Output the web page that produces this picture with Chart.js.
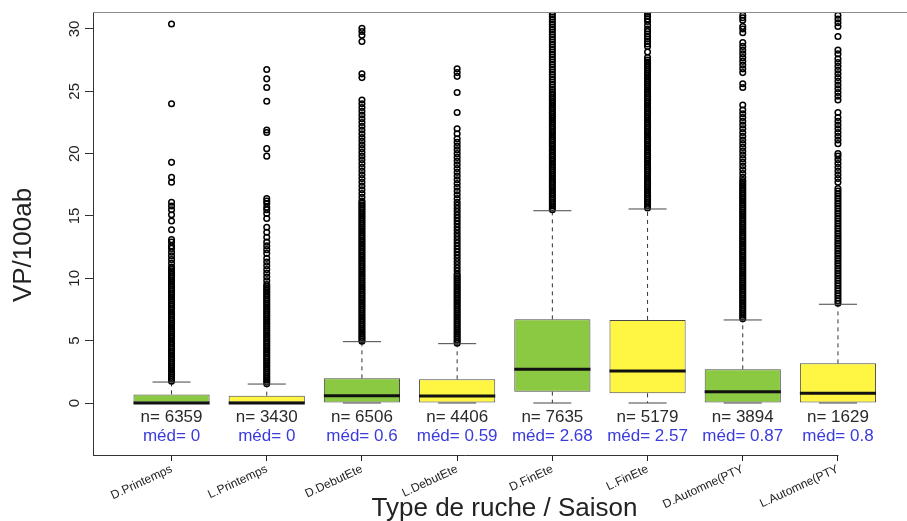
<!DOCTYPE html>
<html>
<head>
<meta charset="utf-8">
<script src="https://cdn.jsdelivr.net/npm/chart.js@4.4.1/dist/chart.umd.min.js"></script>
<style>
  html, body { margin: 0; padding: 0; background: #fff; }
  #wrap { width: 907px; height: 521px; }
</style>
</head>
<body>
<div id="wrap"><canvas id="chart"></canvas></div>
<script>
var categories = ['D.Printemps', 'L.Printemps', 'D.DebutEte', 'L.DebutEte', 'D.FinEte', 'L.FinEte', 'D.Automne(PTY', 'L.Automne(PTY'];
var q1 = [0, 0, 0, 0, 0.91, 0.78, 0, 0];
var medians = [0, 0, 0.59, 0.56, 2.70, 2.57, 0.91, 0.78];
var q3 = [0.69, 0.59, 1.98, 1.90, 6.71, 6.66, 2.70, 3.18];
var whiskLow = [0, 0, 0, 0, 0, 0, 0, 0];
var whiskHigh = [1.68, 1.52, 4.92, 4.76, 15.42, 15.56, 6.66, 7.92];
var counts = [6359, 3430, 6506, 4406, 7635, 5179, 3894, 1629];
var medLabels = ['0', '0', '0.6', '0.59', '2.68', '2.57', '0.87', '0.8'];
var yTicks = [0, 5, 10, 15, 20, 25, 30];

// outliers (the solid black columns are approximated by close points)
var out1 = [1.75, 1.9, 2.05, 2.2, 2.35, 2.5, 2.65, 2.8, 2.95, 3.1, 3.25, 3.4, 3.55, 3.7, 3.85, 4.0, 4.15, 4.3, 4.45, 4.6, 4.75, 4.9, 5.05, 5.2, 5.35, 5.5, 5.65, 5.8, 5.95, 6.1, 6.25, 6.4, 6.55, 6.7, 6.85, 7.0, 7.15, 7.3, 7.45, 7.6, 7.75, 7.9, 8.05, 8.2, 8.35, 8.5, 8.65, 8.8, 8.95, 9.1, 9.25, 9.4, 9.55, 9.7, 9.85, 10.0, 10.15, 10.3, 10.45, 10.6, 10.75, 10.9,
  11.2, 11.5, 11.8, 12.1, 12.4, 12.6, 12.9, 13.1, 13.9, 14.6, 15.1, 15.5, 15.8, 16.1, 17.7, 18.1, 19.3, 24.0, 30.4];
var out2 = [1.55, 1.7, 1.85, 2.0, 2.15, 2.3, 2.45, 2.6, 2.75, 2.9, 3.05, 3.2, 3.35, 3.5, 3.65, 3.8, 3.95, 4.1, 4.25, 4.4, 4.55, 4.7, 4.85, 5.0, 5.15, 5.3, 5.45, 5.6, 5.75, 5.9, 6.05, 6.2, 6.35, 6.5, 6.65, 6.8, 6.95, 7.1, 7.25, 7.4, 7.55, 7.7, 7.85, 8.0, 8.15, 8.3, 8.45, 8.6, 8.75, 8.9, 9.05, 9.2, 9.35, 9.5,
  9.8, 10.1, 10.4, 10.7, 11.0, 11.3, 11.6, 12.0, 12.3, 12.6, 12.9, 13.3, 13.7, 14.1, 14.8, 15.2, 15.5, 15.7, 16.0, 16.2, 16.4, 19.8, 20.4, 21.7, 21.9, 24.2, 25.3, 26.0, 26.75];
var out3 = [4.95, 5.1, 5.25, 5.4, 5.55, 5.7, 5.85, 6.0, 6.15, 6.3, 6.45, 6.6, 6.75, 6.9, 7.05, 7.2, 7.35, 7.5, 7.65, 7.8, 7.95, 8.1, 8.25, 8.4, 8.55, 8.7, 8.85, 9.0, 9.15, 9.3, 9.45, 9.6, 9.75, 9.9, 10.05, 10.2, 10.35, 10.5, 10.65, 10.8, 10.95, 11.1, 11.25, 11.4, 11.55, 11.7, 11.85, 12.0, 12.15, 12.3, 12.45, 12.6, 12.75, 12.9, 13.05, 13.2, 13.35, 13.5, 13.65, 13.8, 13.95, 14.1, 14.25, 14.4, 14.55, 14.7, 14.85, 15.0, 15.15, 15.3, 15.45, 15.6, 15.75, 15.9, 16.05, 16.2,
  16.5, 16.8, 17.1, 17.4, 17.7, 18.0, 18.3, 18.6, 18.9, 19.2, 19.5, 19.8, 20.1, 20.4, 20.7, 21.0, 21.3, 21.6, 21.9, 22.2, 22.5, 22.8, 23.1, 23.4, 23.7, 24.0, 24.3, 26.1, 26.4, 29.0, 29.5, 29.8, 30.05];
var out4 = [4.8, 4.95, 5.1, 5.25, 5.4, 5.55, 5.7, 5.85, 6.0, 6.15, 6.3, 6.45, 6.6, 6.75, 6.9, 7.05, 7.2, 7.35, 7.5, 7.65, 7.8, 7.95, 8.1, 8.25, 8.4, 8.55, 8.7, 8.85, 9.0, 9.15, 9.3, 9.45, 9.6, 9.75, 9.9, 10.05, 10.2, 10.35,
  10.6, 10.85, 11.1, 11.35, 11.6, 11.85, 12.1, 12.35, 12.6, 12.85, 13.1, 13.35, 13.6, 13.85, 14.1, 14.35, 14.6, 14.85, 15.1, 15.35, 15.6, 15.85, 16.1, 16.4, 16.7, 17.0, 17.3, 17.6, 17.9, 18.2, 18.5, 18.8, 19.1, 19.4, 19.7, 20.0, 20.3, 20.6, 20.9, 21.2, 21.6, 22.0, 23.3, 24.9, 26.2, 26.5, 26.8];
var out5 = [15.5, 15.65, 15.8, 15.95, 16.1, 16.25, 16.4, 16.55, 16.7, 16.85, 17.0, 17.15, 17.3, 17.45, 17.6, 17.75, 17.9, 18.05, 18.2, 18.35, 18.5, 18.65, 18.8, 18.95, 19.1, 19.25, 19.4, 19.55, 19.7, 19.85, 20.0, 20.15, 20.3, 20.45, 20.6, 20.75, 20.9, 21.05, 21.2, 21.35, 21.5, 21.65, 21.8, 21.95, 22.1, 22.25, 22.4, 22.55, 22.7, 22.85, 23.0, 23.15, 23.3, 23.45, 23.6, 23.75, 23.9, 24.05, 24.2, 24.35, 24.5, 24.65, 24.8, 24.95,
  25.15, 25.35, 25.55, 25.75, 25.95, 26.15, 26.35, 26.55, 26.75, 26.95, 27.15, 27.35, 27.55, 27.75, 27.95, 28.15, 28.35, 28.55, 28.75, 28.95, 29.15, 29.35, 29.55, 29.75, 29.95, 30.15, 30.35, 30.55, 30.75, 30.95, 31.15, 31.35];
var out6 = [15.65, 15.8, 15.95, 16.1, 16.25, 16.4, 16.55, 16.7, 16.85, 17.0, 17.15, 17.3, 17.45, 17.6, 17.75, 17.9, 18.05, 18.2, 18.35, 18.5, 18.65, 18.8, 18.95, 19.1, 19.25, 19.4, 19.55, 19.7, 19.85, 20.0, 20.15, 20.3, 20.45, 20.6, 20.75, 20.9, 21.05, 21.2, 21.35, 21.5, 21.65, 21.8, 21.95, 22.1, 22.25, 22.4, 22.55, 22.7, 22.85, 23.0, 23.15, 23.3, 23.45, 23.6, 23.75, 23.9, 24.05, 24.2, 24.35, 24.5, 24.65, 24.8, 24.95, 25.1, 25.25, 25.4, 25.55, 25.7, 25.85, 26.0, 26.15, 26.3, 26.45, 26.6, 26.75, 26.9, 27.05, 27.2, 27.35, 27.5, 27.7,
  28.15, 28.6, 28.8, 29.0, 29.2, 29.4, 29.6, 29.8, 30.0, 30.3, 30.6, 30.8, 31.0, 31.2, 31.35];
var out7 = [6.75, 6.9, 7.05, 7.2, 7.35, 7.5, 7.65, 7.8, 7.95, 8.1, 8.25, 8.4, 8.55, 8.7, 8.85, 9.0, 9.15, 9.3, 9.45, 9.6, 9.75, 9.9, 10.05, 10.2, 10.35, 10.5, 10.65, 10.8, 10.95, 11.1, 11.25, 11.4, 11.55, 11.7, 11.85, 12.0, 12.15, 12.3, 12.45, 12.6, 12.75, 12.9, 13.05, 13.2, 13.35, 13.5, 13.65, 13.8, 13.95, 14.1, 14.25, 14.4, 14.55, 14.7, 14.85, 15.0, 15.15, 15.3, 15.45, 15.6, 15.75, 15.9, 16.05, 16.2, 16.35, 16.5, 16.65, 16.8, 16.95, 17.1, 17.25, 17.4, 17.55, 17.7, 17.85,
  18.1, 18.4, 18.7, 19.0, 19.3, 19.6, 19.9, 20.2, 20.5, 20.8, 21.1, 21.4, 21.7, 22.0, 22.3, 22.6, 22.9, 23.2, 23.5, 23.9, 25.3, 25.6, 26.5, 26.8, 27.1, 27.4, 27.7, 28.0, 28.3, 28.6, 28.9, 29.7, 30.0, 30.2, 30.7, 30.9, 31.1];
var out8 = [8.0, 8.2, 8.4, 8.6, 8.8, 9.0, 9.2, 9.4, 9.6, 9.8, 10.0, 10.2, 10.4, 10.6, 10.8, 11.0, 11.2, 11.4, 11.6, 11.8, 12.0, 12.2, 12.4, 12.6, 12.8, 13.0, 13.2, 13.4, 13.6, 13.8, 14.0, 14.2, 14.4, 14.6, 14.8, 15.0, 15.2, 15.4, 15.6, 15.8, 16.0, 16.2, 16.4, 16.6, 16.8, 17.0, 17.2,
  17.7, 18.0, 18.3, 18.6, 18.9, 19.2, 19.5, 19.8, 20.0, 20.8, 21.1, 21.4, 21.7, 22.0, 22.3, 22.6, 22.9, 23.3, 24.3, 24.6, 24.9, 25.2, 25.5, 25.8, 26.1, 26.4, 26.7, 27.0, 27.3, 27.6, 28.0, 28.3, 29.4, 30.2, 30.5, 30.8, 31.1];
var outliers = [out1, out2, out3, out4, out5, out6, out7, out8];

var boxColors = ['#8bc943', '#fff644', '#8bc943', '#fff644', '#8bc943', '#fff644', '#8bc943', '#fff644'];
var FONT = '"Liberation Sans", Arial, Helvetica, sans-serif';

function halfWidth(units) {
  return function (ctx) {
    var s = ctx.chart.scales.x;
    if (!s) return 10;
    return Math.abs(s.getPixelForValue(1 + units) - s.getPixelForValue(1));
  };
}

var boxData = categories.map(function (c, i) { return { x: i + 1, y: [q1[i], q3[i]] }; });
var medData = categories.map(function (c, i) { return { x: i + 1, y: medians[i] }; });
var capData = [];
var whiskData = [];
categories.forEach(function (c, i) {
  capData.push({ x: i + 1, y: whiskHigh[i] });
  capData.push({ x: i + 1, y: whiskLow[i] });
  whiskData.push({ x: i + 1, y: q3[i] }, { x: i + 1, y: whiskHigh[i] }, { x: i + 1, y: null });
  if (q1[i] > whiskLow[i]) {
    whiskData.push({ x: i + 1, y: q1[i] }, { x: i + 1, y: whiskLow[i] }, { x: i + 1, y: null });
  }
});
var outData = [];
outliers.forEach(function (list, i) {
  list.forEach(function (v) { outData.push({ x: i + 1, y: v }); });
});

var textPlugin = {
  id: 'boxText',
  afterDraw: function (chart) {
    var ctx = chart.ctx;
    var xs = chart.scales.x;
    var ys = chart.scales.y;
    var area = chart.chartArea;
    ctx.save();

    // plot frame: grey top line, axis line along the bottom up to the last tick
    ctx.lineWidth = 1;
    ctx.strokeStyle = '#8c8c8c';
    ctx.beginPath();
    ctx.moveTo(area.left, area.top + 0.5);
    ctx.lineTo(chart.width, area.top + 0.5);
    ctx.stroke();
    ctx.strokeStyle = '#333';
    ctx.beginPath();
    ctx.moveTo(area.left, area.bottom + 0.5);
    ctx.lineTo(xs.getPixelForValue(categories.length) + 0.5, area.bottom + 0.5);
    ctx.stroke();

    // y tick labels, vertical like R
    ctx.fillStyle = '#222';
    ctx.font = '15px ' + FONT;
    ctx.textAlign = 'center';
    ctx.textBaseline = 'middle';
    yTicks.forEach(function (v) {
      ctx.save();
      ctx.translate(area.left - 18, ys.getPixelForValue(v));
      ctx.rotate(-Math.PI / 2);
      ctx.fillText(String(v), 0, 0);
      ctx.restore();
    });

    // n= and med= under each box
    var y0 = ys.getPixelForValue(0);
    ctx.font = '17px ' + FONT;
    categories.forEach(function (c, i) {
      var px = xs.getPixelForValue(i + 1);
      ctx.fillStyle = '#2a2a2a';
      ctx.fillText('n= ' + counts[i], px, y0 + 14);
      ctx.fillStyle = '#3b3bdc';
      ctx.fillText('méd= ' + medLabels[i], px, y0 + 33);
    });

    // axis titles
    ctx.fillStyle = '#222';
    ctx.font = '26px ' + FONT;
    ctx.fillText('Type de ruche / Saison', (area.left + xs.getPixelForValue(8.82)) / 2, 509);
    ctx.save();
    ctx.translate(24, 245);
    ctx.rotate(-Math.PI / 2);
    ctx.fillText('VP/100ab', 0, 0);
    ctx.restore();

    ctx.restore();
  }
};

new Chart(document.getElementById('chart'), {
  type: 'bar',
  data: {
    datasets: [
      {
        type: 'scatter', data: medData, pointStyle: 'line', rotation: 0,
        pointRadius: halfWidth(0.4), pointHoverRadius: halfWidth(0.4),
        borderColor: '#111', borderWidth: 3
      },
      {
        type: 'scatter', data: capData, pointStyle: 'line', rotation: 0,
        pointRadius: halfWidth(0.2), pointHoverRadius: halfWidth(0.2),
        borderColor: '#444', borderWidth: 1
      },
      {
        type: 'scatter', data: outData, pointStyle: 'circle',
        pointRadius: 2.8, pointHoverRadius: 2.8,
        borderColor: '#000', borderWidth: 1.5, backgroundColor: 'rgba(0,0,0,0)'
      },
      {
        type: 'line', data: whiskData, pointRadius: 0, borderColor: '#333',
        borderWidth: 1, borderDash: [4, 4], spanGaps: false, fill: false
      },
      {
        type: 'bar', data: boxData, backgroundColor: boxColors, borderColor: '#4a4a4a',
        borderWidth: 1, borderSkipped: false, categoryPercentage: 0.8, barPercentage: 1
      }
    ]
  },
  options: {
    responsive: true,
    maintainAspectRatio: false,
    animation: false,
    events: [],
    layout: { padding: { top: 12, left: 0, right: 0, bottom: 0 } },
    plugins: { legend: { display: false }, tooltip: { enabled: false } },
    scales: {
      x: {
        type: 'linear',
        min: 0.175,
        max: 8.68,
        offset: false,
        afterBuildTicks: function (scale) {
          scale.ticks = categories.map(function (c, i) { return { value: i + 1 }; });
        },
        afterFit: function (scale) { scale.height = 66; },
        ticks: {
          autoSkip: false,
          minRotation: 25,
          maxRotation: 25,
          padding: 1,
          color: '#222',
          font: { family: FONT, size: 12 },
          callback: function (v) { return categories[Math.round(v) - 1]; }
        },
        grid: { offset: false, drawOnChartArea: false, drawTicks: true, tickLength: 6, color: '#222' },
        border: { display: false }
      },
      y: {
        type: 'linear',
        min: -4.17,
        max: 31.36,
        afterBuildTicks: function (scale) {
          scale.ticks = yTicks.map(function (v) { return { value: v }; });
        },
        afterFit: function (scale) { scale.width = 93; },
        ticks: { display: false },
        grid: { drawOnChartArea: false, drawTicks: true, tickLength: 8, color: '#333' },
        border: { display: true, color: '#333', width: 1 }
      }
    }
  },
  plugins: [textPlugin]
});
</script>
</body>
</html>
